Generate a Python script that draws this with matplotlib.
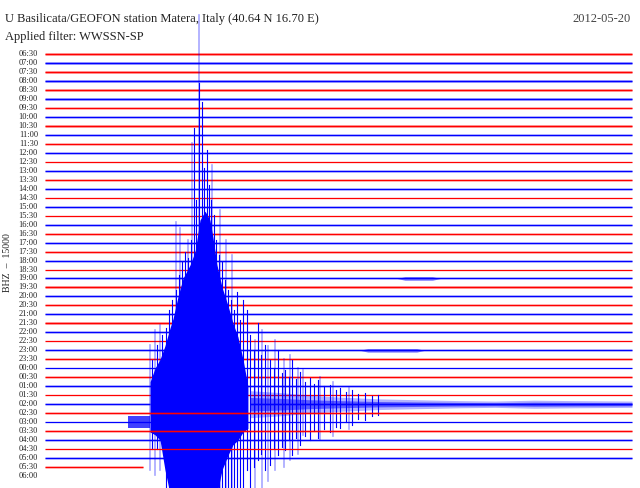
import matplotlib
matplotlib.use("Agg")
import matplotlib.pyplot as plt

# helicorder rows, 30 min each (label of the row start, UTC)
row_labels = ["06:30", "07:00", "07:30", "08:00", "08:30", "09:00", "09:30", "10:00",
              "10:30", "11:00", "11:30", "12:00", "12:30", "13:00", "13:30", "14:00",
              "14:30", "15:00", "15:30", "16:00", "16:30", "17:00", "17:30", "18:00",
              "18:30", "19:00", "19:30", "20:00", "20:30", "21:00", "21:30", "22:00",
              "22:30", "23:00", "23:30", "00:00", "00:30", "01:00", "01:30", "02:00",
              "02:30", "03:00", "03:30", "04:00", "04:30", "05:00", "05:30", "06:00"]

# background noise level read per trace (1 quiet .. 3 noisy)
noise_level = [3, 3, 3, 3, 3, 3, 2, 2, 3, 2, 2, 2, 1, 2, 2, 2,
               1, 2, 1, 2, 2, 2, 2, 2, 1, 2, 3, 2, 2, 2, 3, 2,
               1, 2, 2, 1, 2, 2, 1, 2, 2, 1, 2, 2, 1, 2, 2]

last_trace_end = 5.0      # minutes of data in the 05:30 row
quake_row = 39            # 02:00 row
quake_onset = 4.24        # minutes after 02:00
quake_burst = 5.37

# dense part of the main shock (minutes, row units of top / bottom edge)
core_min = [5.37, 5.62, 5.88, 6.13, 6.39, 6.54, 6.80, 7.05, 7.41, 7.67, 7.92,
            8.18, 8.43, 8.59, 8.79, 9.05, 9.35, 9.61, 9.86, 10.12, 10.37]
core_top = [36.5, 35.0, 34.0, 32.5, 30.5, 29.5, 27.0, 25.0, 23.5, 22.0, 18.5,
            17.5, 18.5, 20.5, 23.5, 26.0, 28.0, 30.0, 31.5, 34.0, 37.0]
core_bot = [42.1, 42.4, 43.0, 46.3, 49, 49, 49, 49, 49, 49, 49,
            49, 49, 49, 49, 46.3, 44.7, 43.5, 43.0, 42.1, 41.7]

# single swings (minute, top, bottom)
dark_spikes = [(5.47, 34.1, 44.0), (5.72, 32.4, 44.0), (5.98, 31.3, 44.0), (6.18, 30.5, 49),
               (6.34, 28.5, 49), (6.49, 27.4, 49), (6.69, 26.3, 49), (6.85, 24.6, 49),
               (7.00, 23.2, 49), (7.16, 22.0, 49), (7.31, 22.7, 49), (7.46, 20.7, 49),
               (7.61, 8.2, 49), (7.72, 16.3, 49), (7.87, 3.2, 49), (8.02, 5.3, 49),
               (8.13, 12.7, 49), (8.28, 10.7, 49), (8.38, 14.6, 49), (8.48, 16.3, 49),
               (8.64, 17.9, 49), (8.74, 20.7, 49), (8.89, 22.4, 49), (9.05, 23.2, 49),
               (9.20, 25.2, 49), (9.35, 26.3, 49), (9.51, 27.4, 49), (9.66, 28.5, 49),
               (9.81, 26.5, 49), (9.97, 29.6, 49), (10.12, 27.4, 49),
               (10.32, 28.5, 46.3), (10.48, 31.3, 49), (10.70, 33.0, 46.0), (10.89, 30.0, 45.2),
               (11.05, 33.5, 44.5), (11.24, 32.4, 46.3), (11.50, 34.1, 45.8), (11.70, 35.0, 44.0),
               (11.91, 33.0, 44.7), (12.10, 35.5, 43.8), (12.27, 35.2, 44.1), (12.45, 36.0, 43.0),
               (12.62, 34.1, 44.7), (12.85, 36.2, 42.8), (13.03, 35.4, 43.5), (13.30, 36.5, 42.5),
               (13.54, 36.1, 43.0), (13.75, 36.8, 42.0), (13.95, 36.3, 42.8), (14.25, 37.0, 41.8),
               (14.57, 36.9, 42.1), (14.85, 37.4, 41.5), (15.08, 37.2, 41.7), (15.40, 37.6, 41.0),
               (15.69, 37.4, 41.3), (16.00, 37.9, 40.6), (16.35, 37.8, 40.8), (16.70, 38.1, 40.3),
               (17.02, 38.0, 40.2)]
light_spikes = [(5.37, 32.4, 46.3), (5.62, 30.7, 46.9), (5.88, 30.2, 46.3), (6.69, 18.7, 49),
                (6.90, 19.4, 49), (7.31, 20.7, 49), (7.51, 9.9, 49), (7.87, -4.3, 49),
                (8.53, 12.4, 49), (8.94, 17.4, 49), (9.25, 20.7, 49), (9.56, 22.4, 49),
                (10.73, 31.9, 49), (11.09, 30.7, 49), (11.40, 32.5, 47.5), (11.75, 31.9, 46.3),
                (12.20, 34.0, 46.0), (12.52, 33.5, 45.2), (12.95, 35.0, 44.5), (13.19, 35.2, 42.4),
                (14.05, 36.0, 43.0), (14.70, 36.5, 42.5), (15.55, 37.2, 41.8)]

# coda on the 02:00 row (minute, half amplitude in rows)
coda_min = [10.5, 12.0, 13.5, 15.0, 17.0, 19.0, 21.2, 23.0, 25.0, 27.0, 30.0]
coda_amp = [1.5, 1.3, 1.0, 0.8, 0.6, 0.5, 0.4, 0.35, 0.45, 0.4, 0.35]

# two small local events (row, start, end, half amplitude)
small_events = [(25, 18.0, 20.2, 0.2), (33, 16.1, 19.4, 0.2)]

RED = "#ff0000"
BLUE = "#0000ff"
halo_alpha = {1: 0.1, 2: 0.3, 3: 0.45}

fig = plt.figure(figsize=(6.4, 4.88), dpi=100)
ax = fig.add_axes([0, 0, 1, 1])
ax.set_xlim(-2.30, 30.41)
ax.set_ylim(48.33, -6.01)
ax.axis("off")


def trace(row, x0, x1, z):
    c = RED if row % 2 == 0 else BLUE
    ax.plot([x0, x1], [row, row], color=c, lw=2.0, alpha=halo_alpha[noise_level[row]],
            solid_capstyle="butt", zorder=z)
    ax.plot([x0, x1], [row, row], color=c, lw=0.8, solid_capstyle="butt", zorder=z)


for i, lab in enumerate(row_labels):
    ax.text(-0.36, i, lab, ha="right", va="center", fontsize=6,
            family="Liberation Serif", color="#222222")

for row in range(len(noise_level)):
    z = 2 * row
    if row == quake_row:
        trace(row, 0, quake_burst, z)
        trace(row, 10.5, 30, z)
        # quake drawn on this row, under the following rows
        ax.fill_between([quake_onset, quake_burst], [40.3, 40.3], [41.6, 41.6],
                        color=BLUE, alpha=0.75, lw=0, zorder=z + 1)
        ax.fill_between(coda_min, [quake_row - a for a in coda_amp],
                        [quake_row + a for a in coda_amp], color=BLUE, alpha=0.3,
                        lw=0, zorder=z + 1)
        ax.fill_between(coda_min, [quake_row - 0.5 * a for a in coda_amp],
                        [quake_row + 0.5 * a for a in coda_amp], color=BLUE, alpha=0.5,
                        lw=0, zorder=z + 1)
        for m, t, b in light_spikes:
            ax.plot([m, m], [t, b], color=BLUE, alpha=0.35, lw=1.2, zorder=z + 1)
        ax.fill_between(core_min, core_top, core_bot, color=BLUE, lw=0, zorder=z + 1)
        for m, t, b in dark_spikes:
            ax.plot([m, m], [t, b], color=BLUE, lw=0.8, zorder=z + 1)
    elif row == len(noise_level) - 1:
        trace(row, 0, last_trace_end, z)
    else:
        trace(row, 0, 30, z)

for row, a, b, amp in small_events:
    ax.fill_between([a, a + 0.4, b - 0.4, b], [row, row - amp, row - amp, row],
                    [row, row + amp, row + amp, row], color=BLUE, alpha=0.5, lw=0,
                    zorder=2 * row + 1)

fig.text(5 / 640, 1 - 19 / 488, "U Basilicata/GEOFON station Matera, Italy (40.64 N 16.70 E)",
         ha="left", va="center", fontsize=9, family="Liberation Serif", color="#222222")
fig.text(631 / 640, 1 - 19 / 488, "2012-05-20", ha="right", va="center", fontsize=9,
         family="Liberation Serif", color="#444444")
fig.text(5 / 640, 1 - 37 / 488, "Applied filter: WWSSN-SP", ha="left", va="center",
         fontsize=9, family="Liberation Serif", color="#222222")
fig.text(8 / 640, 1 - 263 / 488, "BHZ  \u2013  15000", ha="center", va="center", rotation=90,
         fontsize=7, family="Liberation Serif", color="#222222")

fig.savefig("out.png", dpi=100)
